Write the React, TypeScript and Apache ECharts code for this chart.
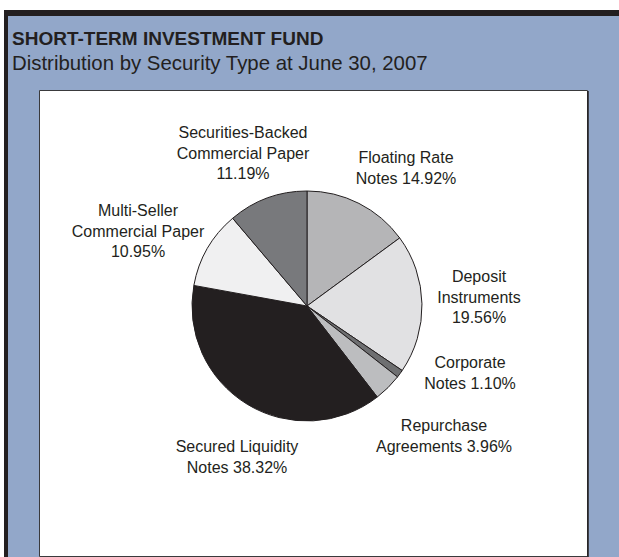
import React, { useEffect, useRef } from "react";
import * as echarts from "echarts";

const titleText = "SHORT-TERM INVESTMENT FUND";
const subtitleText = "Distribution by Security Type at June 30, 2007";

const categories = [
  "Floating Rate Notes",
  "Deposit Instruments",
  "Corporate Notes",
  "Repurchase Agreements",
  "Secured Liquidity Notes",
  "Multi-Seller Commercial Paper",
  "Securities-Backed Commercial Paper",
];
const values = [14.92, 19.56, 1.1, 3.96, 38.32, 10.95, 11.19];
// label text: first lines, then value appended with separator
const labelHeads = [
  "Floating Rate\nNotes ",
  "Deposit\nInstruments\n",
  "Corporate\nNotes ",
  "Repurchase\nAgreements ",
  "Secured Liquidity\nNotes ",
  "Multi-Seller\nCommercial Paper\n",
  "Securities-Backed\nCommercial Paper\n",
];
const sliceColors = ["#b5b5b7", "#e1e1e3", "#6e6f71", "#bcbdbf", "#231f20", "#f0f0f1", "#78797c"];
const labelPos: [number, number][] = [
  [406, 168],
  [479, 297],
  [470, 373],
  [444, 436],
  [237, 457],
  [138, 231],
  [243, 153],
];

const FONT = "Arial, Liberation Sans, Helvetica, sans-serif";

export default function App() {
  const ref = useRef<HTMLDivElement>(null);
  useEffect(() => {
    if (!ref.current) return;
    const chart = echarts.init(ref.current, undefined, { renderer: "svg" });
    chart.setOption({
      animation: false,
      backgroundColor: "#ffffff",
      graphic: [
        { type: "rect", z: 0, shape: { x: 4, y: 10, width: 620, height: 560 }, style: { fill: "#231f20" } },
        { type: "rect", z: 0, shape: { x: 8, y: 16, width: 620, height: 560 }, style: { fill: "#92a7c9" } },
        {
          type: "rect",
          z: 0,
          shape: { x: 39.5, y: 90.5, width: 548, height: 466 },
          style: { fill: "#ffffff", stroke: "#3a3a3c", lineWidth: 1 },
        },
        { type: "line", z: 0, shape: { x1: 588, y1: 91, x2: 588, y2: 557 }, style: { stroke: "#231f20", lineWidth: 1.5 } },
        {
          type: "text",
          z: 1,
          x: 12,
          y: 38,
          style: {
            text: titleText,
            fontFamily: FONT,
            fontWeight: "bold",
            fontSize: 19,
            fill: "#231f20",
            verticalAlign: "middle",
            align: "left",
          },
        },
        {
          type: "text",
          z: 1,
          x: 12,
          y: 63,
          style: {
            text: subtitleText,
            fontFamily: FONT,
            fontSize: 20.4,
            fill: "#231f20",
            verticalAlign: "middle",
            align: "left",
          },
        },
      ],
      series: [
        {
          type: "pie",
          z: 3,
          center: [307, 306],
          radius: 115,
          startAngle: 90,
          clockwise: true,
          avoidLabelOverlap: false,
          itemStyle: { borderColor: "#231f20", borderWidth: 1 },
          emphasis: { disabled: true },
          labelLine: { show: false },
          label: {
            show: true,
            position: "outside",
            fontFamily: FONT,
            fontSize: 16,
            lineHeight: 20.5,
            color: "#231f20",
            align: "center",
            formatter: (p: any) => labelHeads[p.dataIndex] + values[p.dataIndex].toFixed(2) + "%",
          },
          labelLayout: (p: any) => ({
            x: labelPos[p.dataIndex][0],
            y: labelPos[p.dataIndex][1],
            align: "center",
            verticalAlign: "middle",
          }),
          data: categories.map((name, i) => ({
            name,
            value: values[i],
            itemStyle: { color: sliceColors[i] },
          })),
        },
      ],
    });
    return () => chart.dispose();
  }, []);
  return (
    <div
      ref={ref}
      style={{ position: "absolute", left: 0, top: 0, width: 619, height: 557 }}
    />
  );
}
